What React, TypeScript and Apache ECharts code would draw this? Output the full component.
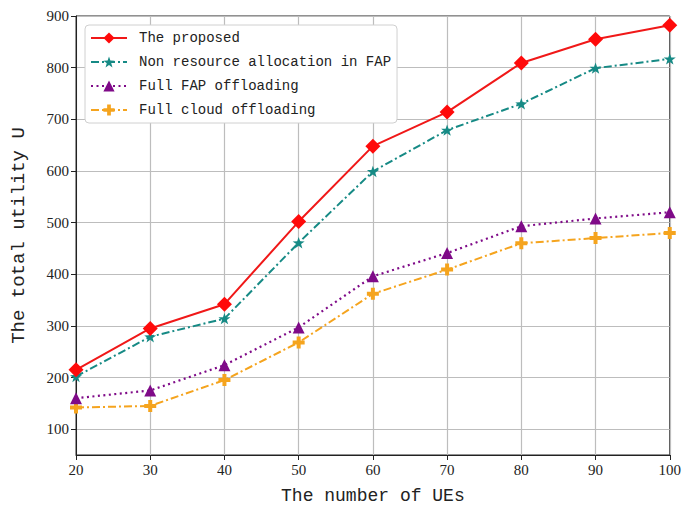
import React, { useEffect, useRef } from "react";
import * as echarts from "echarts";

const xValues = [20, 30, 40, 50, 60, 70, 80, 90, 100];
const proposed = [215, 295, 342, 502, 648, 714, 809, 855, 882];
const nonResource = [202, 279, 314, 461, 599, 679, 730, 799, 817];
const fullFap = [160, 175, 224, 297, 396, 441, 493, 508, 520];
const fullCloud = [142, 145, 195, 268, 362, 409, 460, 470, 480];
const yTicks = [100, 200, 300, 400, 500, 600, 700, 800, 900];
const seriesNames = [
  "The proposed",
  "Non resource allocation in FAP",
  "Full FAP offloading",
  "Full cloud offloading",
];

const STAR =
  "path://M0,-10 L2.35,-3.24 L9.51,-3.09 L3.8,1.24 L5.88,8.09 L0,4 L-5.88,8.09 L-3.8,1.24 L-9.51,-3.09 L-2.35,-3.24 Z";
const PLUS =
  "path://M-1,-3 L1,-3 L1,-1 L3,-1 L3,1 L1,1 L1,3 L-1,3 L-1,1 L-3,1 L-3,-1 L-1,-1 Z";

export default function App() {
  const ref = useRef<HTMLDivElement>(null);
  useEffect(() => {
    if (!ref.current) return;
    const chart = echarts.init(ref.current, undefined, { renderer: "svg" });
    const pair = (arr: number[]) => xValues.map((x, i) => [x, arr[i]]);
    const mono = "Liberation Mono";
    chart.setOption({
      animation: false,
      backgroundColor: "#fff",
      grid: {
        left: 76,
        right: 12,
        top: 16,
        bottom: 53,
        show: true,
        borderColor: "#222",
        borderWidth: 1,
        backgroundColor: "transparent",
      },
      legend: {
        orient: "vertical",
        left: 85,
        top: 25,
        padding: [6, 6, 6, 5],
        itemWidth: 36,
        itemHeight: 14,
        itemGap: 10,
        backgroundColor: "#fff",
        borderColor: "#d0d0d0",
        borderWidth: 1,
        borderRadius: 4,
        textStyle: {
          fontFamily: mono,
          fontSize: 14,
          color: "#222",
          padding: [0, 0, 0, 7],
        },
        data: seriesNames,
      },
      xAxis: {
        type: "value",
        min: 20,
        max: 100,
        interval: 10,
        name: "The number of UEs",
        nameLocation: "middle",
        nameGap: 32,
        nameTextStyle: { fontFamily: mono, fontSize: 18, color: "#222" },
        axisLine: { lineStyle: { color: "#222", width: 1 } },
        axisTick: { show: true, inside: false, length: 5, lineStyle: { color: "#222" } },
        axisLabel: { fontFamily: "Liberation Serif", fontSize: 15, color: "#222", margin: 7 },
        splitLine: { show: true, lineStyle: { color: "#bdbdbd", width: 1.2 } },
      },
      yAxis: {
        type: "value",
        min: 50,
        max: 900,
        name: "The total utility U",
        nameLocation: "middle",
        nameGap: 48,
        nameTextStyle: { fontFamily: mono, fontSize: 19, color: "#222" },
        axisLine: { show: true, lineStyle: { color: "#222", width: 1 } },
        axisTick: {
          show: true,
          inside: false,
          length: 5,
          lineStyle: { color: "#222" },
          customValues: yTicks,
        },
        axisLabel: {
          fontFamily: "Liberation Serif",
          fontSize: 15,
          color: "#222",
          margin: 7,
          customValues: yTicks,
        },
        splitLine: { show: true, lineStyle: { color: "#bdbdbd", width: 1.2 } },
      },
      series: [
        {
          name: seriesNames[0],
          type: "line",
          data: pair(proposed),
          symbol: "diamond",
          symbolSize: 15,
          color: "#f01818",
          lineStyle: { color: "#f01818", width: 2 },
          itemStyle: { color: "#ff0a0a" },
          z: 5,
        },
        {
          name: seriesNames[1],
          type: "line",
          data: pair(nonResource),
          symbol: STAR,
          symbolKeepAspect: true,
          symbolSize: 12,
          color: "#168a85",
          lineStyle: { color: "#168a85", width: 2, type: [8, 3, 2, 3] },
          itemStyle: { color: "#168a85" },
          z: 4,
        },
        {
          name: seriesNames[2],
          type: "line",
          data: pair(fullFap),
          symbol: "triangle",
          symbolSize: 12,
          color: "#7f0a88",
          lineStyle: { color: "#7f0a88", width: 2.2, type: [2, 3.5] },
          itemStyle: { color: "#7f0a88" },
          z: 3,
        },
        {
          name: seriesNames[3],
          type: "line",
          data: pair(fullCloud),
          symbol: PLUS,
          symbolKeepAspect: true,
          symbolSize: 12,
          color: "#f5a41e",
          lineStyle: { color: "#f5a41e", width: 2, type: [8, 3, 2, 3] },
          itemStyle: { color: "#f5a41e" },
          z: 2,
        },
      ],
    });
    return () => chart.dispose();
  }, []);
  return (
    <div
      ref={ref}
      style={{ position: "absolute", left: 0, top: 0, width: 684, height: 510 }}
    />
  );
}
